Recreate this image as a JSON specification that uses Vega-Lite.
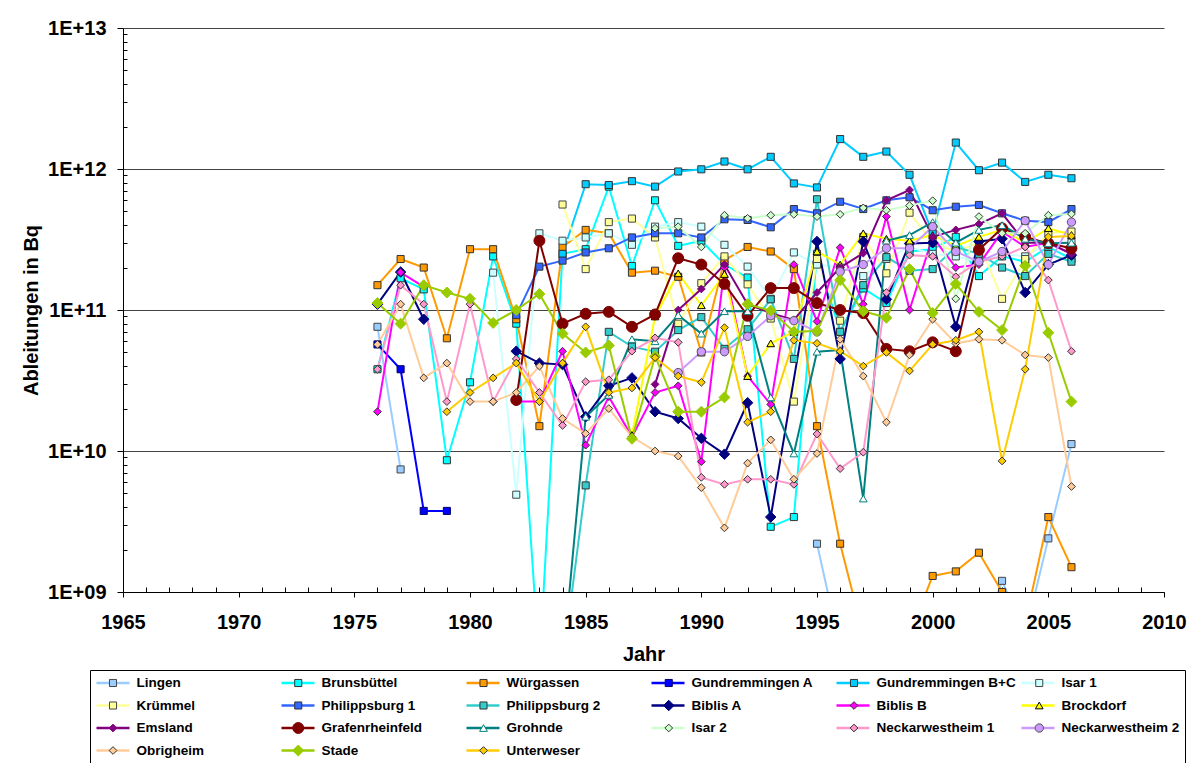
{
"$schema": "https://vega.github.io/schema/vega-lite/v6.json",
"width": 1041, "height": 564,
"autosize": {"type": "none"},
"padding": {"left": 123, "top": 28, "right": 30, "bottom": 171},
"background": "white",
"config": {"view": {"stroke": null}, "font": "Liberation Sans"},
"datasets": {"d": [
{"a":"Lingen","j":1976,"v":7.6e10},{"a":"Lingen","j":1977,"v":7.4e9},{"a":"Lingen","j":1978,"v":null},{"a":"Lingen","j":1995,"v":2.2e9},{"a":"Lingen","j":1996,"v":4e8},{"a":"Lingen","j":1997,"v":3e8},{"a":"Lingen","j":1998,"v":3e8},{"a":"Lingen","j":1999,"v":3e8},{"a":"Lingen","j":2000,"v":3e8},{"a":"Lingen","j":2001,"v":3e8},{"a":"Lingen","j":2002,"v":4e8},{"a":"Lingen","j":2003,"v":1.2e9},{"a":"Lingen","j":2004,"v":5e8},{"a":"Lingen","j":2005,"v":2.4e9},{"a":"Lingen","j":2006,"v":1.12e10},
{"a":"Brunsbüttel","j":1976,"v":3.8e10},{"a":"Brunsbüttel","j":1977,"v":1.68e11},{"a":"Brunsbüttel","j":1978,"v":1.4e11},{"a":"Brunsbüttel","j":1979,"v":8.6e9},{"a":"Brunsbüttel","j":1980,"v":3.07e10},{"a":"Brunsbüttel","j":1981,"v":2.4e11},{"a":"Brunsbüttel","j":1982,"v":8.0e10},{"a":"Brunsbüttel","j":1983,"v":3e8},{"a":"Brunsbüttel","j":1984,"v":2.5e11},{"a":"Brunsbüttel","j":1985,"v":2.7e11},{"a":"Brunsbüttel","j":1986,"v":7.5e11},{"a":"Brunsbüttel","j":1987,"v":2.05e11},{"a":"Brunsbüttel","j":1988,"v":6.0e11},{"a":"Brunsbüttel","j":1989,"v":2.85e11},{"a":"Brunsbüttel","j":1990,"v":3.1e11},{"a":"Brunsbüttel","j":1991,"v":2.1e11},{"a":"Brunsbüttel","j":1992,"v":1.7e11},{"a":"Brunsbüttel","j":1993,"v":2.9e9},{"a":"Brunsbüttel","j":1994,"v":3.4e9},{"a":"Brunsbüttel","j":1995,"v":2.5e11},{"a":"Brunsbüttel","j":1996,"v":7.0e10},{"a":"Brunsbüttel","j":1997,"v":1.42e11},{"a":"Brunsbüttel","j":1998,"v":1.12e11},{"a":"Brunsbüttel","j":1999,"v":2.6e11},{"a":"Brunsbüttel","j":2000,"v":2.7e11},{"a":"Brunsbüttel","j":2001,"v":3.3e11},{"a":"Brunsbüttel","j":2002,"v":1.74e11},{"a":"Brunsbüttel","j":2003,"v":2.4e11},{"a":"Brunsbüttel","j":2004,"v":2.2e11},{"a":"Brunsbüttel","j":2005,"v":2.8e11},{"a":"Brunsbüttel","j":2006,"v":2.3e11},
{"a":"Würgassen","j":1976,"v":1.5e11},{"a":"Würgassen","j":1977,"v":2.3e11},{"a":"Würgassen","j":1978,"v":2.0e11},{"a":"Würgassen","j":1979,"v":6.3e10},{"a":"Würgassen","j":1980,"v":2.7e11},{"a":"Würgassen","j":1981,"v":2.7e11},{"a":"Würgassen","j":1982,"v":8.6e10},{"a":"Würgassen","j":1983,"v":1.5e10},{"a":"Würgassen","j":1984,"v":2.8e11},{"a":"Würgassen","j":1985,"v":3.7e11},{"a":"Würgassen","j":1986,"v":3.5e11},{"a":"Würgassen","j":1987,"v":1.84e11},{"a":"Würgassen","j":1988,"v":1.9e11},{"a":"Würgassen","j":1989,"v":1.72e11},{"a":"Würgassen","j":1990,"v":5.0e10},{"a":"Würgassen","j":1991,"v":2.26e11},{"a":"Würgassen","j":1992,"v":2.8e11},{"a":"Würgassen","j":1993,"v":2.6e11},{"a":"Würgassen","j":1994,"v":1.95e11},{"a":"Würgassen","j":1995,"v":1.5e10},{"a":"Würgassen","j":1996,"v":2.2e9},{"a":"Würgassen","j":1997,"v":5e8},{"a":"Würgassen","j":1998,"v":4e8},{"a":"Würgassen","j":1999,"v":5e8},{"a":"Würgassen","j":2000,"v":1.3e9},{"a":"Würgassen","j":2001,"v":1.4e9},{"a":"Würgassen","j":2002,"v":1.9e9},{"a":"Würgassen","j":2003,"v":1.0e9},{"a":"Würgassen","j":2004,"v":6e8},{"a":"Würgassen","j":2005,"v":3.4e9},{"a":"Würgassen","j":2006,"v":1.5e9},
{"a":"Gundremmingen A","j":1976,"v":5.7e10},{"a":"Gundremmingen A","j":1977,"v":3.8e10},{"a":"Gundremmingen A","j":1978,"v":3.76e9},{"a":"Gundremmingen A","j":1979,"v":3.76e9},
{"a":"Gundremmingen B+C","j":1984,"v":2.5e11},{"a":"Gundremmingen B+C","j":1985,"v":7.8e11},{"a":"Gundremmingen B+C","j":1986,"v":7.7e11},{"a":"Gundremmingen B+C","j":1987,"v":8.2e11},{"a":"Gundremmingen B+C","j":1988,"v":7.5e11},{"a":"Gundremmingen B+C","j":1989,"v":9.6e11},{"a":"Gundremmingen B+C","j":1990,"v":9.95e11},{"a":"Gundremmingen B+C","j":1991,"v":1.13e12},{"a":"Gundremmingen B+C","j":1992,"v":9.95e11},{"a":"Gundremmingen B+C","j":1993,"v":1.22e12},{"a":"Gundremmingen B+C","j":1994,"v":7.9e11},{"a":"Gundremmingen B+C","j":1995,"v":7.4e11},{"a":"Gundremmingen B+C","j":1996,"v":1.63e12},{"a":"Gundremmingen B+C","j":1997,"v":1.22e12},{"a":"Gundremmingen B+C","j":1998,"v":1.33e12},{"a":"Gundremmingen B+C","j":1999,"v":9.1e11},{"a":"Gundremmingen B+C","j":2000,"v":3.5e11},{"a":"Gundremmingen B+C","j":2001,"v":1.54e12},{"a":"Gundremmingen B+C","j":2002,"v":9.8e11},{"a":"Gundremmingen B+C","j":2003,"v":1.11e12},{"a":"Gundremmingen B+C","j":2004,"v":8.1e11},{"a":"Gundremmingen B+C","j":2005,"v":9.1e11},{"a":"Gundremmingen B+C","j":2006,"v":8.6e11},
{"a":"Isar 1","j":1981,"v":1.84e11},{"a":"Isar 1","j":1982,"v":4.9e9},{"a":"Isar 1","j":1983,"v":3.5e11},{"a":"Isar 1","j":1984,"v":3.1e11},{"a":"Isar 1","j":1985,"v":3.27e11},{"a":"Isar 1","j":1986,"v":3.5e11},{"a":"Isar 1","j":1987,"v":2.9e11},{"a":"Isar 1","j":1988,"v":3.9e11},{"a":"Isar 1","j":1989,"v":4.2e11},{"a":"Isar 1","j":1990,"v":3.9e11},{"a":"Isar 1","j":1991,"v":2.9e11},{"a":"Isar 1","j":1992,"v":2.03e11},{"a":"Isar 1","j":1993,"v":1.2e11},{"a":"Isar 1","j":1994,"v":2.56e11},{"a":"Isar 1","j":1995,"v":2.1e11},{"a":"Isar 1","j":1996,"v":2.0e11},{"a":"Isar 1","j":1997,"v":1.74e11},{"a":"Isar 1","j":1998,"v":2.3e11},{"a":"Isar 1","j":1999,"v":2.8e11},{"a":"Isar 1","j":2000,"v":2.5e11},{"a":"Isar 1","j":2001,"v":2.4e11},{"a":"Isar 1","j":2002,"v":2.2e11},{"a":"Isar 1","j":2003,"v":2.5e11},{"a":"Isar 1","j":2004,"v":2.4e11},{"a":"Isar 1","j":2005,"v":3.0e11},{"a":"Isar 1","j":2006,"v":3.0e11},
{"a":"Krümmel","j":1984,"v":5.6e11},{"a":"Krümmel","j":1985,"v":1.95e11},{"a":"Krümmel","j":1986,"v":4.2e11},{"a":"Krümmel","j":1987,"v":4.45e11},{"a":"Krümmel","j":1988,"v":3.27e11},{"a":"Krümmel","j":1989,"v":8.0e10},{"a":"Krümmel","j":1990,"v":1.55e11},{"a":"Krümmel","j":1991,"v":2.4e11},{"a":"Krümmel","j":1992,"v":1.52e11},{"a":"Krümmel","j":1993,"v":8.7e10},{"a":"Krümmel","j":1994,"v":2.24e10},{"a":"Krümmel","j":1995,"v":2.3e11},{"a":"Krümmel","j":1996,"v":8.4e10},{"a":"Krümmel","j":1997,"v":3.3e11},{"a":"Krümmel","j":1998,"v":1.82e11},{"a":"Krümmel","j":1999,"v":4.9e11},{"a":"Krümmel","j":2000,"v":3.0e11},{"a":"Krümmel","j":2001,"v":2.6e11},{"a":"Krümmel","j":2002,"v":3.0e11},{"a":"Krümmel","j":2003,"v":1.2e11},{"a":"Krümmel","j":2004,"v":2.3e11},{"a":"Krümmel","j":2005,"v":3.5e11},{"a":"Krümmel","j":2006,"v":3.6e11},
{"a":"Philippsburg 1","j":1982,"v":9.2e10},{"a":"Philippsburg 1","j":1983,"v":2.03e11},{"a":"Philippsburg 1","j":1984,"v":2.24e11},{"a":"Philippsburg 1","j":1985,"v":2.56e11},{"a":"Philippsburg 1","j":1986,"v":2.74e11},{"a":"Philippsburg 1","j":1987,"v":3.27e11},{"a":"Philippsburg 1","j":1988,"v":3.5e11},{"a":"Philippsburg 1","j":1989,"v":3.5e11},{"a":"Philippsburg 1","j":1990,"v":3.27e11},{"a":"Philippsburg 1","j":1991,"v":4.4e11},{"a":"Philippsburg 1","j":1992,"v":4.35e11},{"a":"Philippsburg 1","j":1993,"v":3.86e11},{"a":"Philippsburg 1","j":1994,"v":5.2e11},{"a":"Philippsburg 1","j":1995,"v":4.85e11},{"a":"Philippsburg 1","j":1996,"v":5.86e11},{"a":"Philippsburg 1","j":1997,"v":5.2e11},{"a":"Philippsburg 1","j":1998,"v":6.0e11},{"a":"Philippsburg 1","j":1999,"v":6.3e11},{"a":"Philippsburg 1","j":2000,"v":5.1e11},{"a":"Philippsburg 1","j":2001,"v":5.4e11},{"a":"Philippsburg 1","j":2002,"v":5.56e11},{"a":"Philippsburg 1","j":2003,"v":4.85e11},{"a":"Philippsburg 1","j":2004,"v":4.3e11},{"a":"Philippsburg 1","j":2005,"v":4.2e11},{"a":"Philippsburg 1","j":2006,"v":5.2e11},
{"a":"Philippsburg 2","j":1984,"v":3e8},{"a":"Philippsburg 2","j":1985,"v":5.7e9},{"a":"Philippsburg 2","j":1986,"v":7.0e10},{"a":"Philippsburg 2","j":1987,"v":5.5e10},{"a":"Philippsburg 2","j":1988,"v":5.06e10},{"a":"Philippsburg 2","j":1989,"v":7.2e10},{"a":"Philippsburg 2","j":1990,"v":8.9e10},{"a":"Philippsburg 2","j":1991,"v":5.3e10},{"a":"Philippsburg 2","j":1992,"v":7.3e10},{"a":"Philippsburg 2","j":1993,"v":1.19e11},{"a":"Philippsburg 2","j":1994,"v":4.5e10},{"a":"Philippsburg 2","j":1995,"v":6.1e11},{"a":"Philippsburg 2","j":1996,"v":7.0e10},{"a":"Philippsburg 2","j":1997,"v":1.5e11},{"a":"Philippsburg 2","j":1998,"v":2.37e11},{"a":"Philippsburg 2","j":1999,"v":1.9e11},{"a":"Philippsburg 2","j":2000,"v":1.95e11},{"a":"Philippsburg 2","j":2001,"v":2.8e11},{"a":"Philippsburg 2","j":2002,"v":2.5e11},{"a":"Philippsburg 2","j":2003,"v":2.0e11},{"a":"Philippsburg 2","j":2004,"v":1.74e11},{"a":"Philippsburg 2","j":2005,"v":2.5e11},{"a":"Philippsburg 2","j":2006,"v":2.2e11},
{"a":"Biblis A","j":1976,"v":1.1e11},{"a":"Biblis A","j":1977,"v":1.86e11},{"a":"Biblis A","j":1978,"v":8.6e10},{"a":"Biblis A","j":1979,"v":null},{"a":"Biblis A","j":1982,"v":5.1e10},{"a":"Biblis A","j":1983,"v":4.2e10},{"a":"Biblis A","j":1984,"v":4.1e10},{"a":"Biblis A","j":1985,"v":1.75e10},{"a":"Biblis A","j":1986,"v":2.9e10},{"a":"Biblis A","j":1987,"v":3.3e10},{"a":"Biblis A","j":1988,"v":1.9e10},{"a":"Biblis A","j":1989,"v":1.7e10},{"a":"Biblis A","j":1990,"v":1.23e10},{"a":"Biblis A","j":1991,"v":9.5e9},{"a":"Biblis A","j":1992,"v":2.2e10},{"a":"Biblis A","j":1993,"v":3.4e9},{"a":"Biblis A","j":1995,"v":3.06e11},{"a":"Biblis A","j":1996,"v":4.5e10},{"a":"Biblis A","j":1997,"v":3.06e11},{"a":"Biblis A","j":1998,"v":1.19e11},{"a":"Biblis A","j":1999,"v":2.96e11},{"a":"Biblis A","j":2000,"v":3.0e11},{"a":"Biblis A","j":2001,"v":7.6e10},{"a":"Biblis A","j":2002,"v":3.06e11},{"a":"Biblis A","j":2003,"v":3.2e11},{"a":"Biblis A","j":2004,"v":1.33e11},{"a":"Biblis A","j":2005,"v":2.1e11},{"a":"Biblis A","j":2006,"v":2.45e11},
{"a":"Biblis B","j":1976,"v":1.9e10},{"a":"Biblis B","j":1977,"v":1.85e11},{"a":"Biblis B","j":1978,"v":1.46e11},{"a":"Biblis B","j":1979,"v":null},{"a":"Biblis B","j":1982,"v":2.24e10},{"a":"Biblis B","j":1983,"v":2.24e10},{"a":"Biblis B","j":1984,"v":5.1e10},{"a":"Biblis B","j":1985,"v":1.1e10},{"a":"Biblis B","j":1986,"v":2.43e10},{"a":"Biblis B","j":1987,"v":1.26e10},{"a":"Biblis B","j":1988,"v":2.6e10},{"a":"Biblis B","j":1989,"v":2.9e10},{"a":"Biblis B","j":1990,"v":8.4e9},{"a":"Biblis B","j":1991,"v":2.0e11},{"a":"Biblis B","j":1992,"v":3.4e10},{"a":"Biblis B","j":1993,"v":2.14e10},{"a":"Biblis B","j":1994,"v":2.1e11},{"a":"Biblis B","j":1995,"v":8.3e10},{"a":"Biblis B","j":1996,"v":2.77e11},{"a":"Biblis B","j":1997,"v":1.1e11},{"a":"Biblis B","j":1998,"v":4.6e11},{"a":"Biblis B","j":1999,"v":1.0e11},{"a":"Biblis B","j":2000,"v":3.3e11},{"a":"Biblis B","j":2001,"v":2.0e11},{"a":"Biblis B","j":2002,"v":2.1e11},{"a":"Biblis B","j":2003,"v":3.6e11},{"a":"Biblis B","j":2004,"v":2.8e11},{"a":"Biblis B","j":2005,"v":3.0e11},{"a":"Biblis B","j":2006,"v":2.5e11},
{"a":"Brockdorf","j":1987,"v":1.3e10},{"a":"Brockdorf","j":1988,"v":9.0e10},{"a":"Brockdorf","j":1989,"v":1.82e11},{"a":"Brockdorf","j":1990,"v":1.08e11},{"a":"Brockdorf","j":1991,"v":1.8e11},{"a":"Brockdorf","j":1992,"v":3.4e10},{"a":"Brockdorf","j":1993,"v":5.8e10},{"a":"Brockdorf","j":1994,"v":7.0e10},{"a":"Brockdorf","j":1995,"v":2.6e11},{"a":"Brockdorf","j":1996,"v":2.1e11},{"a":"Brockdorf","j":1997,"v":3.5e11},{"a":"Brockdorf","j":1998,"v":3.2e11},{"a":"Brockdorf","j":1999,"v":3.1e11},{"a":"Brockdorf","j":2000,"v":3.4e11},{"a":"Brockdorf","j":2001,"v":2.85e11},{"a":"Brockdorf","j":2002,"v":3.3e11},{"a":"Brockdorf","j":2003,"v":3.7e11},{"a":"Brockdorf","j":2004,"v":3.0e11},{"a":"Brockdorf","j":2005,"v":3.8e11},{"a":"Brockdorf","j":2006,"v":3.4e11},
{"a":"Emsland","j":1988,"v":2.97e10},{"a":"Emsland","j":1989,"v":1.0e11},{"a":"Emsland","j":1990,"v":1.41e11},{"a":"Emsland","j":1991,"v":2.1e11},{"a":"Emsland","j":1992,"v":1.1e11},{"a":"Emsland","j":1993,"v":9.5e10},{"a":"Emsland","j":1994,"v":8.5e10},{"a":"Emsland","j":1995,"v":1.33e11},{"a":"Emsland","j":1996,"v":2.0e11},{"a":"Emsland","j":1997,"v":2.53e11},{"a":"Emsland","j":1998,"v":6.0e11},{"a":"Emsland","j":1999,"v":7.1e11},{"a":"Emsland","j":2000,"v":3.3e11},{"a":"Emsland","j":2001,"v":3.7e11},{"a":"Emsland","j":2002,"v":4.07e11},{"a":"Emsland","j":2003,"v":4.85e11},{"a":"Emsland","j":2004,"v":3.0e11},{"a":"Emsland","j":2005,"v":3.0e11},{"a":"Emsland","j":2006,"v":2.5e11},
{"a":"Grafenrheinfeld","j":1982,"v":2.3e10},{"a":"Grafenrheinfeld","j":1983,"v":3.1e11},{"a":"Grafenrheinfeld","j":1984,"v":8.0e10},{"a":"Grafenrheinfeld","j":1985,"v":9.4e10},{"a":"Grafenrheinfeld","j":1986,"v":9.7e10},{"a":"Grafenrheinfeld","j":1987,"v":7.6e10},{"a":"Grafenrheinfeld","j":1988,"v":9.3e10},{"a":"Grafenrheinfeld","j":1989,"v":2.33e11},{"a":"Grafenrheinfeld","j":1990,"v":2.1e11},{"a":"Grafenrheinfeld","j":1991,"v":1.53e11},{"a":"Grafenrheinfeld","j":1992,"v":9.1e10},{"a":"Grafenrheinfeld","j":1993,"v":1.43e11},{"a":"Grafenrheinfeld","j":1994,"v":1.43e11},{"a":"Grafenrheinfeld","j":1995,"v":1.12e11},{"a":"Grafenrheinfeld","j":1996,"v":1.0e11},{"a":"Grafenrheinfeld","j":1997,"v":9.5e10},{"a":"Grafenrheinfeld","j":1998,"v":5.3e10},{"a":"Grafenrheinfeld","j":1999,"v":5.1e10},{"a":"Grafenrheinfeld","j":2000,"v":5.9e10},{"a":"Grafenrheinfeld","j":2001,"v":5.1e10},{"a":"Grafenrheinfeld","j":2002,"v":2.67e11},{"a":"Grafenrheinfeld","j":2003,"v":3.8e11},{"a":"Grafenrheinfeld","j":2004,"v":3.3e11},{"a":"Grafenrheinfeld","j":2005,"v":2.97e11},{"a":"Grafenrheinfeld","j":2006,"v":2.74e11},
{"a":"Grohnde","j":1984,"v":3e8},{"a":"Grohnde","j":1985,"v":1.75e10},{"a":"Grohnde","j":1986,"v":2.5e10},{"a":"Grohnde","j":1987,"v":6.2e10},{"a":"Grohnde","j":1988,"v":6.0e10},{"a":"Grohnde","j":1989,"v":9.2e10},{"a":"Grohnde","j":1990,"v":6.8e10},{"a":"Grohnde","j":1991,"v":9.8e10},{"a":"Grohnde","j":1992,"v":9.8e10},{"a":"Grohnde","j":1993,"v":2.4e10},{"a":"Grohnde","j":1994,"v":9.6e9},{"a":"Grohnde","j":1995,"v":5.06e10},{"a":"Grohnde","j":1996,"v":5.2e10},{"a":"Grohnde","j":1997,"v":4.6e9},{"a":"Grohnde","j":1998,"v":3.1e11},{"a":"Grohnde","j":1999,"v":3.4e11},{"a":"Grohnde","j":2000,"v":4.2e11},{"a":"Grohnde","j":2001,"v":3.0e11},{"a":"Grohnde","j":2002,"v":3.7e11},{"a":"Grohnde","j":2003,"v":4.0e11},{"a":"Grohnde","j":2004,"v":3.2e11},{"a":"Grohnde","j":2005,"v":2.97e11},{"a":"Grohnde","j":2006,"v":3.0e11},
{"a":"Isar 2","j":1988,"v":3.8e11},{"a":"Isar 2","j":1989,"v":3.9e11},{"a":"Isar 2","j":1990,"v":2.8e11},{"a":"Isar 2","j":1991,"v":4.7e11},{"a":"Isar 2","j":1992,"v":4.47e11},{"a":"Isar 2","j":1993,"v":4.7e11},{"a":"Isar 2","j":1994,"v":4.77e11},{"a":"Isar 2","j":1995,"v":4.6e11},{"a":"Isar 2","j":1996,"v":4.77e11},{"a":"Isar 2","j":1997,"v":5.3e11},{"a":"Isar 2","j":1998,"v":5.1e11},{"a":"Isar 2","j":1999,"v":5.5e11},{"a":"Isar 2","j":2000,"v":5.96e11},{"a":"Isar 2","j":2001,"v":1.2e11},{"a":"Isar 2","j":2002,"v":4.6e11},{"a":"Isar 2","j":2003,"v":3.5e11},{"a":"Isar 2","j":2004,"v":3.5e11},{"a":"Isar 2","j":2005,"v":4.7e11},{"a":"Isar 2","j":2006,"v":4.8e11},
{"a":"Neckarwestheim 1","j":1976,"v":3.8e10},{"a":"Neckarwestheim 1","j":1977,"v":1.5e11},{"a":"Neckarwestheim 1","j":1978,"v":1.1e11},{"a":"Neckarwestheim 1","j":1979,"v":2.24e10},{"a":"Neckarwestheim 1","j":1980,"v":1.1e11},{"a":"Neckarwestheim 1","j":1981,"v":2.24e10},{"a":"Neckarwestheim 1","j":1982,"v":4.5e10},{"a":"Neckarwestheim 1","j":1983,"v":2.6e10},{"a":"Neckarwestheim 1","j":1984,"v":1.52e10},{"a":"Neckarwestheim 1","j":1985,"v":3.1e10},{"a":"Neckarwestheim 1","j":1986,"v":3.2e10},{"a":"Neckarwestheim 1","j":1987,"v":5.1e10},{"a":"Neckarwestheim 1","j":1988,"v":6.35e10},{"a":"Neckarwestheim 1","j":1989,"v":5.9e10},{"a":"Neckarwestheim 1","j":1990,"v":6.5e9},{"a":"Neckarwestheim 1","j":1991,"v":5.8e9},{"a":"Neckarwestheim 1","j":1992,"v":6.3e9},{"a":"Neckarwestheim 1","j":1993,"v":6.3e9},{"a":"Neckarwestheim 1","j":1994,"v":5.8e9},{"a":"Neckarwestheim 1","j":1995,"v":1.32e10},{"a":"Neckarwestheim 1","j":1996,"v":7.5e9},{"a":"Neckarwestheim 1","j":1997,"v":9.8e9},{"a":"Neckarwestheim 1","j":1998,"v":1.33e11},{"a":"Neckarwestheim 1","j":1999,"v":2.45e11},{"a":"Neckarwestheim 1","j":2000,"v":2.4e11},{"a":"Neckarwestheim 1","j":2001,"v":1.72e11},{"a":"Neckarwestheim 1","j":2002,"v":2.2e11},{"a":"Neckarwestheim 1","j":2003,"v":2.4e11},{"a":"Neckarwestheim 1","j":2004,"v":2.8e11},{"a":"Neckarwestheim 1","j":2005,"v":1.63e11},{"a":"Neckarwestheim 1","j":2006,"v":5.1e10},
{"a":"Neckarwestheim 2","j":1989,"v":3.6e10},{"a":"Neckarwestheim 2","j":1990,"v":5.06e10},{"a":"Neckarwestheim 2","j":1991,"v":5.06e10},{"a":"Neckarwestheim 2","j":1992,"v":6.5e10},{"a":"Neckarwestheim 2","j":1993,"v":9.1e10},{"a":"Neckarwestheim 2","j":1994,"v":8.4e10},{"a":"Neckarwestheim 2","j":1995,"v":7.0e10},{"a":"Neckarwestheim 2","j":1996,"v":1.87e11},{"a":"Neckarwestheim 2","j":1997,"v":2.1e11},{"a":"Neckarwestheim 2","j":1998,"v":2.74e11},{"a":"Neckarwestheim 2","j":1999,"v":2.74e11},{"a":"Neckarwestheim 2","j":2000,"v":3.9e11},{"a":"Neckarwestheim 2","j":2001,"v":2.6e11},{"a":"Neckarwestheim 2","j":2002,"v":2.2e11},{"a":"Neckarwestheim 2","j":2003,"v":2.6e11},{"a":"Neckarwestheim 2","j":2004,"v":4.3e11},{"a":"Neckarwestheim 2","j":2005,"v":2.1e11},{"a":"Neckarwestheim 2","j":2006,"v":4.2e11},
{"a":"Obrigheim","j":1976,"v":5.7e10},{"a":"Obrigheim","j":1977,"v":1.1e11},{"a":"Obrigheim","j":1978,"v":3.3e10},{"a":"Obrigheim","j":1979,"v":4.2e10},{"a":"Obrigheim","j":1980,"v":2.24e10},{"a":"Obrigheim","j":1981,"v":2.24e10},{"a":"Obrigheim","j":1982,"v":2.6e10},{"a":"Obrigheim","j":1983,"v":4.0e10},{"a":"Obrigheim","j":1984,"v":1.7e10},{"a":"Obrigheim","j":1985,"v":1.33e10},{"a":"Obrigheim","j":1986,"v":2.0e10},{"a":"Obrigheim","j":1987,"v":1.26e10},{"a":"Obrigheim","j":1988,"v":1.0e10},{"a":"Obrigheim","j":1989,"v":9.2e9},{"a":"Obrigheim","j":1990,"v":5.5e9},{"a":"Obrigheim","j":1991,"v":2.85e9},{"a":"Obrigheim","j":1992,"v":8.2e9},{"a":"Obrigheim","j":1993,"v":1.2e10},{"a":"Obrigheim","j":1994,"v":6.3e9},{"a":"Obrigheim","j":1995,"v":9.6e9},{"a":"Obrigheim","j":1996,"v":6.2e10},{"a":"Obrigheim","j":1997,"v":3.4e10},{"a":"Obrigheim","j":1998,"v":1.6e10},{"a":"Obrigheim","j":1999,"v":4.8e10},{"a":"Obrigheim","j":2000,"v":8.6e10},{"a":"Obrigheim","j":2001,"v":5.8e10},{"a":"Obrigheim","j":2002,"v":6.2e10},{"a":"Obrigheim","j":2003,"v":6.1e10},{"a":"Obrigheim","j":2004,"v":4.8e10},{"a":"Obrigheim","j":2005,"v":4.6e10},{"a":"Obrigheim","j":2006,"v":5.6e9},
{"a":"Stade","j":1976,"v":1.12e11},{"a":"Stade","j":1977,"v":8.0e10},{"a":"Stade","j":1978,"v":1.5e11},{"a":"Stade","j":1979,"v":1.33e11},{"a":"Stade","j":1980,"v":1.2e11},{"a":"Stade","j":1981,"v":8.1e10},{"a":"Stade","j":1982,"v":1.0e11},{"a":"Stade","j":1983,"v":1.3e11},{"a":"Stade","j":1984,"v":6.8e10},{"a":"Stade","j":1985,"v":5.0e10},{"a":"Stade","j":1986,"v":5.6e10},{"a":"Stade","j":1987,"v":1.22e10},{"a":"Stade","j":1988,"v":4.7e10},{"a":"Stade","j":1989,"v":1.9e10},{"a":"Stade","j":1990,"v":1.9e10},{"a":"Stade","j":1991,"v":2.4e10},{"a":"Stade","j":1992,"v":1.1e11},{"a":"Stade","j":1993,"v":9.9e10},{"a":"Stade","j":1994,"v":7.0e10},{"a":"Stade","j":1995,"v":7.1e10},{"a":"Stade","j":1996,"v":1.63e11},{"a":"Stade","j":1997,"v":9.8e10},{"a":"Stade","j":1998,"v":8.8e10},{"a":"Stade","j":1999,"v":1.95e11},{"a":"Stade","j":2000,"v":9.5e10},{"a":"Stade","j":2001,"v":1.53e11},{"a":"Stade","j":2002,"v":9.7e10},{"a":"Stade","j":2003,"v":7.2e10},{"a":"Stade","j":2004,"v":2.06e11},{"a":"Stade","j":2005,"v":6.9e10},{"a":"Stade","j":2006,"v":2.24e10},
{"a":"Unterweser","j":1979,"v":1.9e10},{"a":"Unterweser","j":1980,"v":2.6e10},{"a":"Unterweser","j":1981,"v":3.3e10},{"a":"Unterweser","j":1982,"v":4.2e10},{"a":"Unterweser","j":1983,"v":2.24e10},{"a":"Unterweser","j":1984,"v":4.2e10},{"a":"Unterweser","j":1985,"v":7.6e10},{"a":"Unterweser","j":1986,"v":2.6e10},{"a":"Unterweser","j":1987,"v":2.8e10},{"a":"Unterweser","j":1988,"v":4.6e10},{"a":"Unterweser","j":1989,"v":3.4e10},{"a":"Unterweser","j":1990,"v":3.07e10},{"a":"Unterweser","j":1991,"v":7.5e10},{"a":"Unterweser","j":1992,"v":1.6e10},{"a":"Unterweser","j":1993,"v":1.9e10},{"a":"Unterweser","j":1994,"v":6.1e10},{"a":"Unterweser","j":1995,"v":5.8e10},{"a":"Unterweser","j":1996,"v":5.1e10},{"a":"Unterweser","j":1997,"v":4.0e10},{"a":"Unterweser","j":1998,"v":5.0e10},{"a":"Unterweser","j":1999,"v":3.7e10},{"a":"Unterweser","j":2000,"v":5.7e10},{"a":"Unterweser","j":2001,"v":6.1e10},{"a":"Unterweser","j":2002,"v":7.0e10},{"a":"Unterweser","j":2003,"v":8.5e9},{"a":"Unterweser","j":2004,"v":3.8e10},{"a":"Unterweser","j":2005,"v":3.3e11},{"a":"Unterweser","j":2006,"v":3.35e11}
]},
"data": {"name": "d"},
"encoding": {
  "x": {"field": "j", "type": "quantitative",
    "scale": {"domain": [1965, 2010], "nice": false, "zero": false},
    "axis": {"values": [1965,1966,1967,1968,1969,1970,1971,1972,1973,1974,1975,1976,1977,1978,1979,1980,1981,1982,1983,1984,1985,1986,1987,1988,1989,1990,1991,1992,1993,1994,1995,1996,1997,1998,1999,2000,2001,2002,2003,2004,2005,2006,2007,2008,2009,2010],
      "labelExpr": "datum.value % 5 == 0 ? '' + datum.value : ''",
      "labelOverlap": false, "labelFlush": false,
      "labelFont": "Liberation Sans", "labelFontSize": 20, "labelFontWeight": "bold", "labelColor": "black", "labelPadding": 15,
      "tickColor": "black", "tickWidth": 1,
      "tickSize": {"condition": {"test": "datum.value % 5 == 0", "value": 5}, "value": -5},
      "grid": false, "domainColor": "black", "domainWidth": 1,
      "title": "Jahr", "titleFont": "Liberation Sans", "titleFontSize": 20, "titleFontWeight": "bold", "titleColor": "black", "titlePadding": 12}},
  "y": {"field": "v", "type": "quantitative",
    "scale": {"type": "log", "domain": [1e9, 1e13], "nice": false},
    "axis": {"values": [1e9,2e9,3e9,4e9,5e9,6e9,7e9,8e9,9e9,1e10,2e10,3e10,4e10,5e10,6e10,7e10,8e10,9e10,1e11,2e11,3e11,4e11,5e11,6e11,7e11,8e11,9e11,1e12,2e12,3e12,4e12,5e12,6e12,7e12,8e12,9e12,1e13],
      "labelExpr": "abs(log(datum.value)/LN10 - round(log(datum.value)/LN10)) < 0.001 ? '1E+' + (round(log(datum.value)/LN10) < 10 ? '0' : '') + round(log(datum.value)/LN10) : ''",
      "labelOverlap": false, "labelFlush": false,
      "labelFont": "Liberation Sans", "labelFontSize": 20, "labelFontWeight": "bold", "labelColor": "black", "labelPadding": 11,
      "tickColor": "black", "tickWidth": 1,
      "tickSize": {"condition": {"test": "abs(log(datum.value)/LN10 - round(log(datum.value)/LN10)) < 0.001", "value": 6}, "value": -4},
      "grid": true, "gridColor": "#444444", "gridWidth": 1,
      "gridOpacity": {"condition": {"test": "abs(log(datum.value)/LN10 - round(log(datum.value)/LN10)) < 0.001", "value": 1}, "value": 0},
      "domainColor": "black", "domainWidth": 1,
      "title": "Ableitungen in Bq", "titleFont": "Liberation Sans", "titleFontSize": 20, "titleFontWeight": "bold", "titleColor": "black", "titlePadding": 6}}
},
"layer": [
  {"mark": {"type": "line", "strokeWidth": 2, "clip": true},
   "encoding": {
     "color": {"field": "a", "type": "nominal",
       "scale": {"domain": ["Lingen","Brunsbüttel","Würgassen","Gundremmingen A","Gundremmingen B+C","Isar 1","Krümmel","Philippsburg 1","Philippsburg 2","Biblis A","Biblis B","Brockdorf","Emsland","Grafenrheinfeld","Grohnde","Isar 2","Neckarwestheim 1","Neckarwestheim 2","Obrigheim","Stade","Unterweser","~"],
                 "range": ["#99CCFF","#00FFFF","#FF9900","#0000FF","#00CCFF","#CCFFFF","#FFFF99","#3366FF","#33CCCC","#000080","#FF00FF","#FFFF00","#800080","#800000","#008080","#CCFFCC","#FF99CC","#CC99FF","#FFCC99","#99CC00","#FFCC00","#FFFFFF"]},
       "legend": {"orient": "none", "legendX": -33, "legendY": 642, "columns": 6, "direction": "horizontal", "zindex": 0,
         "values": ["Lingen","Brunsbüttel","Würgassen","Gundremmingen A","Gundremmingen B+C","Isar 1","Krümmel","Philippsburg 1","Philippsburg 2","Biblis A","Biblis B","Brockdorf","Emsland","Grafenrheinfeld","Grohnde","Isar 2","Neckarwestheim 1","Neckarwestheim 2","Obrigheim","Stade","Unterweser"],
         "symbolType": "stroke", "symbolSize": 1089, "symbolStrokeWidth": 2.5, "clipHeight": 16,
         "labelOffset": 5.5, "columnPadding": 4, "rowPadding": 6.5, "gridAlign": "all",
         "labelFont": "Liberation Sans", "labelFontSize": 13.5, "labelFontWeight": "bold", "labelColor": "black", "labelLimit": 300,
         "padding": 5, "strokeColor": "black", "title": null}}
   }},
  {"transform": [{"calculate": "datum.a", "as": "b"}],
   "mark": {"type": "point", "filled": true, "opacity": 1, "strokeWidth": 1, "clip": true},
   "encoding": {
     "fill": {"field": "b", "type": "nominal",
       "scale": {"domain": ["Lingen","Brunsbüttel","Würgassen","Gundremmingen A","Gundremmingen B+C","Isar 1","Krümmel","Philippsburg 1","Philippsburg 2","Biblis A","Biblis B","Brockdorf","Emsland","Grafenrheinfeld","Grohnde","Isar 2","Neckarwestheim 1","Neckarwestheim 2","Obrigheim","Stade","Unterweser"],
                 "range": ["#99CCFF","#00FFFF","#FF9900","#0000FF","#00CCFF","#CCFFFF","#FFFF99","#3366FF","#33CCCC","#000080","#FF00FF","#FFFF00","#800080","#800000","#FFFFFF","#CCFFCC","#FF99CC","#CC99FF","#FFCC99","#99CC00","#FFCC00"]},
       "legend": {"orient": "none", "legendX": -21.75, "legendY": 642, "columns": 6, "direction": "horizontal", "zindex": 1,
         "symbolStrokeWidth": 1, "clipHeight": 16,
         "labelOffset": 16.75, "columnPadding": 15.25, "rowPadding": 6.5, "gridAlign": "all",
         "labelFont": "Liberation Sans", "labelFontSize": 13.5, "labelFontWeight": "bold", "labelColor": "black", "labelOpacity": 0, "labelLimit": 300,
         "padding": 5, "title": null}},
     "shape": {"field": "b", "type": "nominal",
       "scale": {"domain": ["Lingen","Brunsbüttel","Würgassen","Gundremmingen A","Gundremmingen B+C","Isar 1","Krümmel","Philippsburg 1","Philippsburg 2","Biblis A","Biblis B","Brockdorf","Emsland","Grafenrheinfeld","Grohnde","Isar 2","Neckarwestheim 1","Neckarwestheim 2","Obrigheim","Stade","Unterweser"],
                 "range": ["square","square","square","square","square","square","square","square","square","diamond","diamond","triangle-up","diamond","circle","triangle-up","diamond","diamond","circle","diamond","diamond","diamond"]},
       "legend": {"orient": "none", "legendX": -21.75, "legendY": 642, "columns": 6, "direction": "horizontal", "zindex": 1,
         "symbolStrokeWidth": 1, "clipHeight": 16,
         "labelOffset": 16.75, "columnPadding": 15.25, "rowPadding": 6.5, "gridAlign": "all",
         "labelFont": "Liberation Sans", "labelFontSize": 13.5, "labelFontWeight": "bold", "labelColor": "black", "labelOpacity": 0, "labelLimit": 300,
         "padding": 5, "title": null}},
     "stroke": {"field": "b", "type": "nominal",
       "scale": {"domain": ["Lingen","Brunsbüttel","Würgassen","Gundremmingen A","Gundremmingen B+C","Isar 1","Krümmel","Philippsburg 1","Philippsburg 2","Biblis A","Biblis B","Brockdorf","Emsland","Grafenrheinfeld","Grohnde","Isar 2","Neckarwestheim 1","Neckarwestheim 2","Obrigheim","Stade","Unterweser"],
                 "range": ["#444444","#333333","#333333","#000066","#333333","#444444","#444444","#333333","#333333","#000080","#333333","#000000","#800080","#800000","#008080","#333333","#333333","#555555","#333333","#99CC00","#333333"]},
       "legend": {"orient": "none", "legendX": -21.75, "legendY": 642, "columns": 6, "direction": "horizontal", "zindex": 1,
         "symbolStrokeWidth": 1, "clipHeight": 16,
         "labelOffset": 16.75, "columnPadding": 15.25, "rowPadding": 6.5, "gridAlign": "all",
         "labelFont": "Liberation Sans", "labelFontSize": 13.5, "labelFontWeight": "bold", "labelColor": "black", "labelOpacity": 0, "labelLimit": 300,
         "padding": 5, "title": null}},
     "size": {"field": "b", "type": "nominal",
       "scale": {"type": "ordinal", "domain": ["Lingen","Brunsbüttel","Würgassen","Gundremmingen A","Gundremmingen B+C","Isar 1","Krümmel","Philippsburg 1","Philippsburg 2","Biblis A","Biblis B","Brockdorf","Emsland","Grafenrheinfeld","Grohnde","Isar 2","Neckarwestheim 1","Neckarwestheim 2","Obrigheim","Stade","Unterweser"],
                 "range": [50,50,50,50,50,50,50,50,50,110,60,60,60,120,60,60,60,70,60,120,60]},
       "legend": {"orient": "none", "legendX": -21.75, "legendY": 642, "columns": 6, "direction": "horizontal", "zindex": 1,
         "symbolStrokeWidth": 1, "clipHeight": 16,
         "labelOffset": 16.75, "columnPadding": 15.25, "rowPadding": 6.5, "gridAlign": "all",
         "labelFont": "Liberation Sans", "labelFontSize": 13.5, "labelFontWeight": "bold", "labelColor": "black", "labelOpacity": 0, "labelLimit": 300,
         "padding": 5, "title": null}}
   }}
]
}
